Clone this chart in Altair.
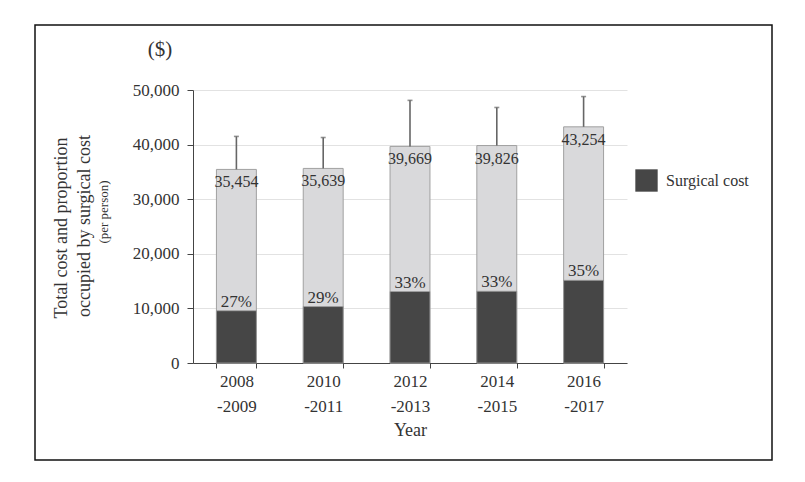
import altair as alt
import pandas as pd

years = ["2008\n-2009", "2010\n-2011", "2012\n-2013", "2014\n-2015", "2016\n-2017"]
total = [35454, 35639, 39669, 39826, 43254]
surgical = [9573, 10335, 13091, 13143, 15139]
pct = [27, 29, 33, 33, 35]
upper = [41500, 41300, 48100, 46800, 48800]
y_ticks = [0, 10000, 20000, 30000, 40000, 50000]

df = pd.DataFrame({
    "year": years,
    "total": total,
    "surgical": surgical,
    "pct": [f"{p}%" for p in pct],
    "upper": upper,
    "series": ["Surgical cost"] * len(years),
})

FONT = "Liberation Serif"
TXT = "#333333"

xenc = alt.X("year:N", sort=years,
             scale=alt.Scale(paddingInner=0.54, paddingOuter=0.27),
             axis=alt.Axis(title="Year", labelAngle=0, tickBand="extent",
                           labelExpr="split(datum.label, '\\n')",
                           labelLineHeight=25, labelPadding=5, labelFontSize=17,
                           titleFontSize=18, titlePadding=7, grid=False,
                           tickSize=5, domainColor="#444", tickColor="#444"))
yscale = alt.Scale(domain=[0, 50000], nice=False)

base = alt.Chart(df)

total_bar = base.mark_bar(color="#d9d9db", stroke="#a0a0a0", strokeWidth=1).encode(
    x=xenc,
    y=alt.Y("total:Q", scale=yscale,
            axis=alt.Axis(title=None, values=y_ticks, format=",d", labelFontSize=17,
                          labelPadding=8, tickSize=6, gridColor="#e2e2e2",
                          domainColor="#444", tickColor="#444")),
)

err = base.mark_rule(color="#666666", strokeWidth=1.6).encode(
    x=alt.X("year:N", sort=years), y="total:Q", y2="upper:Q")
cap = base.mark_tick(color="#666666", thickness=1.6, size=5).encode(
    x=alt.X("year:N", sort=years), y="upper:Q")

surg_bar = base.mark_bar(stroke="#a0a0a0", strokeWidth=0.8).encode(
    x=alt.X("year:N", sort=years),
    y="surgical:Q",
    color=alt.Color("series:N",
                    scale=alt.Scale(domain=["Surgical cost"], range=["#464646"]),
                    legend=alt.Legend(title=None, orient="none", legendX=442, legendY=79,
                                      symbolType="square", symbolSize=500,
                                      symbolStrokeWidth=0, labelFontSize=16,
                                      labelFont=FONT, labelColor=TXT, labelOffset=8)),
)

total_lbl = base.mark_text(baseline="top", dy=5, fontSize=16, font=FONT, color=TXT).encode(
    x=alt.X("year:N", sort=years), y="total:Q", text=alt.Text("total:Q", format=","))
pct_lbl = base.mark_text(baseline="bottom", dy=0, fontSize=17, font=FONT, color=TXT).encode(
    x=alt.X("year:N", sort=years), y="surgical:Q", text="pct:N")

one = alt.Chart(alt.Data(values=[{"k": 1}]))
border = one.mark_rect(fill=None, stroke="#111", strokeWidth=1.5, clip=False).encode(
    x=alt.value(-158), x2=alt.value(579), y=alt.value(-65), y2=alt.value(370))
dollar = one.mark_text(fontSize=21, font=FONT, color=TXT).encode(
    x=alt.value(-33), y=alt.value(-40), text=alt.value("($)"))
t1 = one.mark_text(fontSize=18, font=FONT, color=TXT, angle=270).encode(
    x=alt.value(-131), y=alt.value(138), text=alt.value("Total cost and proportion"))
t2 = one.mark_text(fontSize=18, font=FONT, color=TXT, angle=270).encode(
    x=alt.value(-108), y=alt.value(136), text=alt.value("occupied by surgical cost"))
t3 = one.mark_text(fontSize=13, font=FONT, color=TXT, angle=270).encode(
    x=alt.value(-89), y=alt.value(122), text=alt.value("(per person)"))

chart = alt.layer(total_bar, err, cap, surg_bar, total_lbl, pct_lbl,
                  border, dollar, t1, t2, t3).properties(
    width=434, height=273,
    autosize=alt.AutoSizeParams(type="none"),
    padding={"left": 185, "top": 82, "right": 170, "bottom": 111},
).configure_view(stroke=None).configure_axis(
    labelFont=FONT, titleFont=FONT, labelColor=TXT, titleColor=TXT, titleFontWeight="normal"
)

chart.save("out.html", embed_options={"renderer": "svg", "actions": False})
